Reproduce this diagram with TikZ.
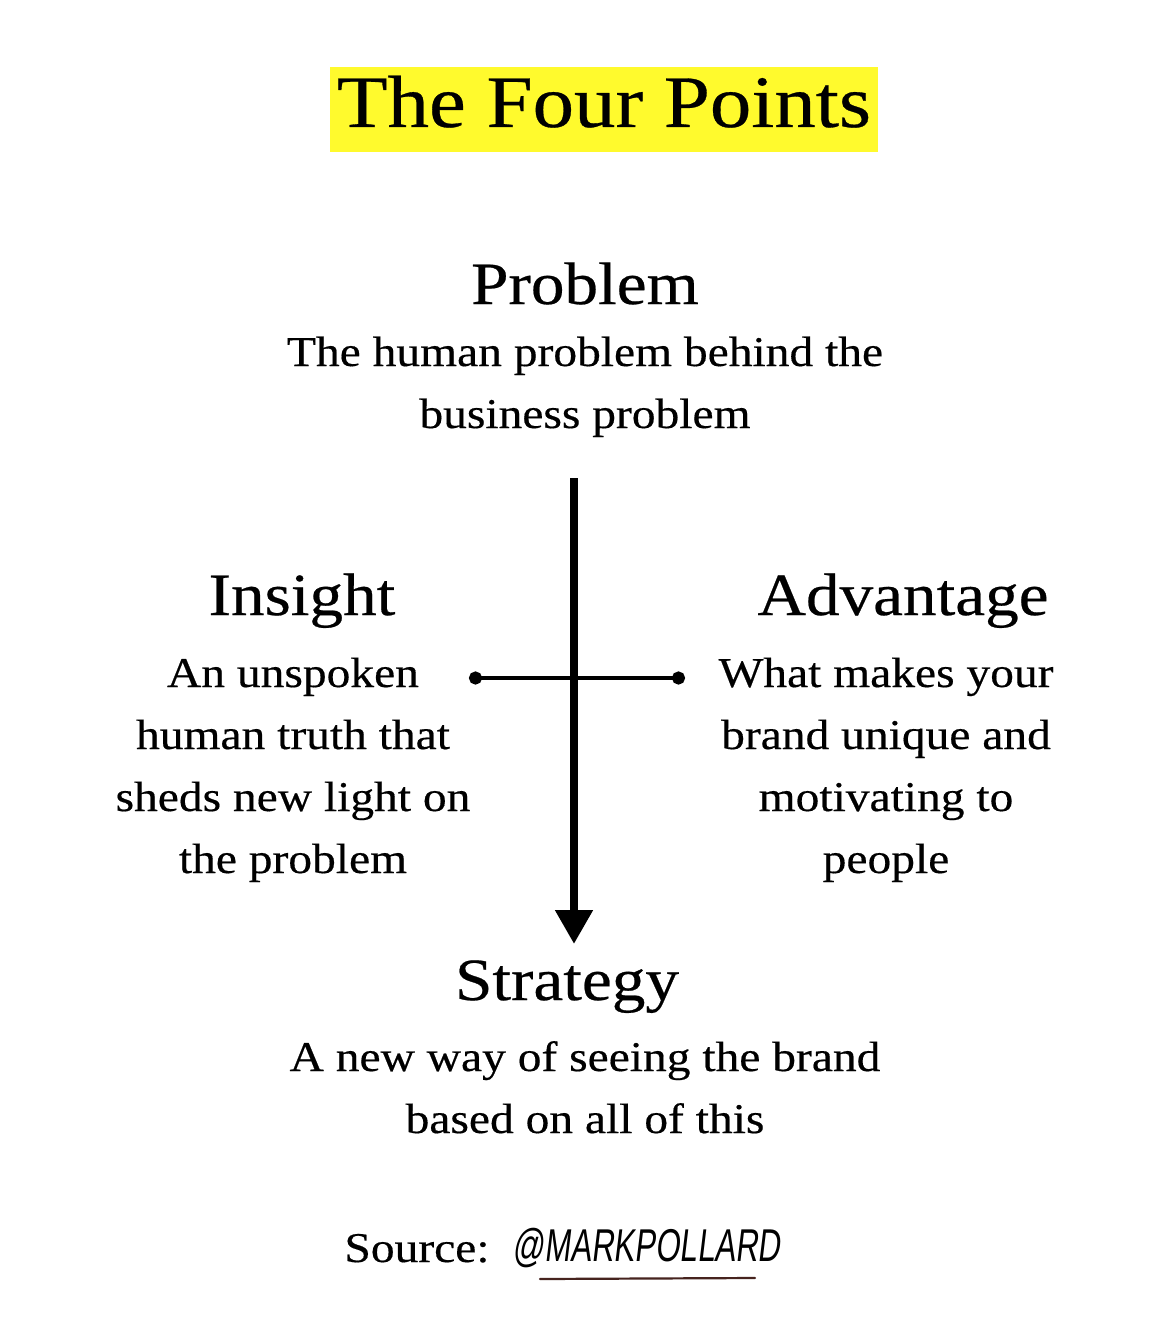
\documentclass[tikz,border=0pt]{standalone}
\usepackage{fontspec}
\setmainfont{Liberation Serif}[FakeStretch=1.12,FakeBold=0.4]
\newfontfamily\handfont{Liberation Sans}[FakeStretch=0.68,FakeSlant=0.12]
\usetikzlibrary{positioning,arrows.meta}
\definecolor{hiliteyellow}{RGB}{255,250,45}
\definecolor{penbrown}{RGB}{70,35,30}

\begin{document}
\begin{tikzpicture}[
  x=0.5pt, y=-0.5pt,
  titlebox/.style={fill=hiliteyellow, anchor=base, inner xsep=0pt, inner ysep=0pt,
    minimum width=274pt, text height=30pt, text depth=12.5pt, font=\fontsize{37}{40}\selectfont},
  heading/.style={inner sep=0pt, anchor=base, font=\fontsize{30}{34}\selectfont},
  desc/.style={inner sep=0pt, anchor=base, align=center, font=\fontsize{21.2}{31}\selectfont},
  handle/.style={inner sep=0pt, font=\handfont\fontsize{23}{26}\selectfont},
  spine/.style={line width=4pt, -{Triangle[length=17pt, width=18pt]}},
  crossbar/.style={line width=2.2pt, {Circle[length=6.5pt]}-{Circle[length=6.5pt]}},
  >=latex
]
\fill[white] (0,0) rectangle (1170,1337);
\useasboundingbox (0,0) rectangle (1170,1337);

\node[titlebox] (title) at (604,127) {The Four Points};

% multi-line nodes sit on the baseline of their last line
\node[heading] (problem) at (585,304) {Problem};
\node[desc] (problemtxt) at (585,428) {The human problem behind the\\business problem};

\node[heading] (insight) at (302,615) {Insight};
\node[desc] (insighttxt) at (293,873) {An unspoken\\human truth that\\sheds new light on\\the problem};

\node[heading] (advantage) at (903,615) {Advantage};
\node[desc] (advantagetxt) at (886,873) {What makes your\\brand unique and\\motivating to\\people};

\node[heading] (strategy) at (567,1000) {Strategy};
\node[desc] (strategytxt) at (585,1133) {A new way of seeing the brand\\based on all of this};

\node[desc] (source) at (417,1262) {Source:};
\node[handle, right=11pt of source] (handle) {@MARKPOLLARD};

\coordinate (spinetop) at (574,478);
\coordinate (spineend) at (574,944);
\coordinate (barwest) at (469,678);
\coordinate (bareast) at (685,678);
\coordinate (ulwest) at (540,1279);
\coordinate (uleast) at (755,1278);

\draw[spine] (spinetop) -- (spineend);
\draw[crossbar] (barwest) -- (bareast);
\draw[penbrown, line width=1.1pt, line cap=round] (ulwest) -- (uleast);
\end{tikzpicture}
\end{document}
